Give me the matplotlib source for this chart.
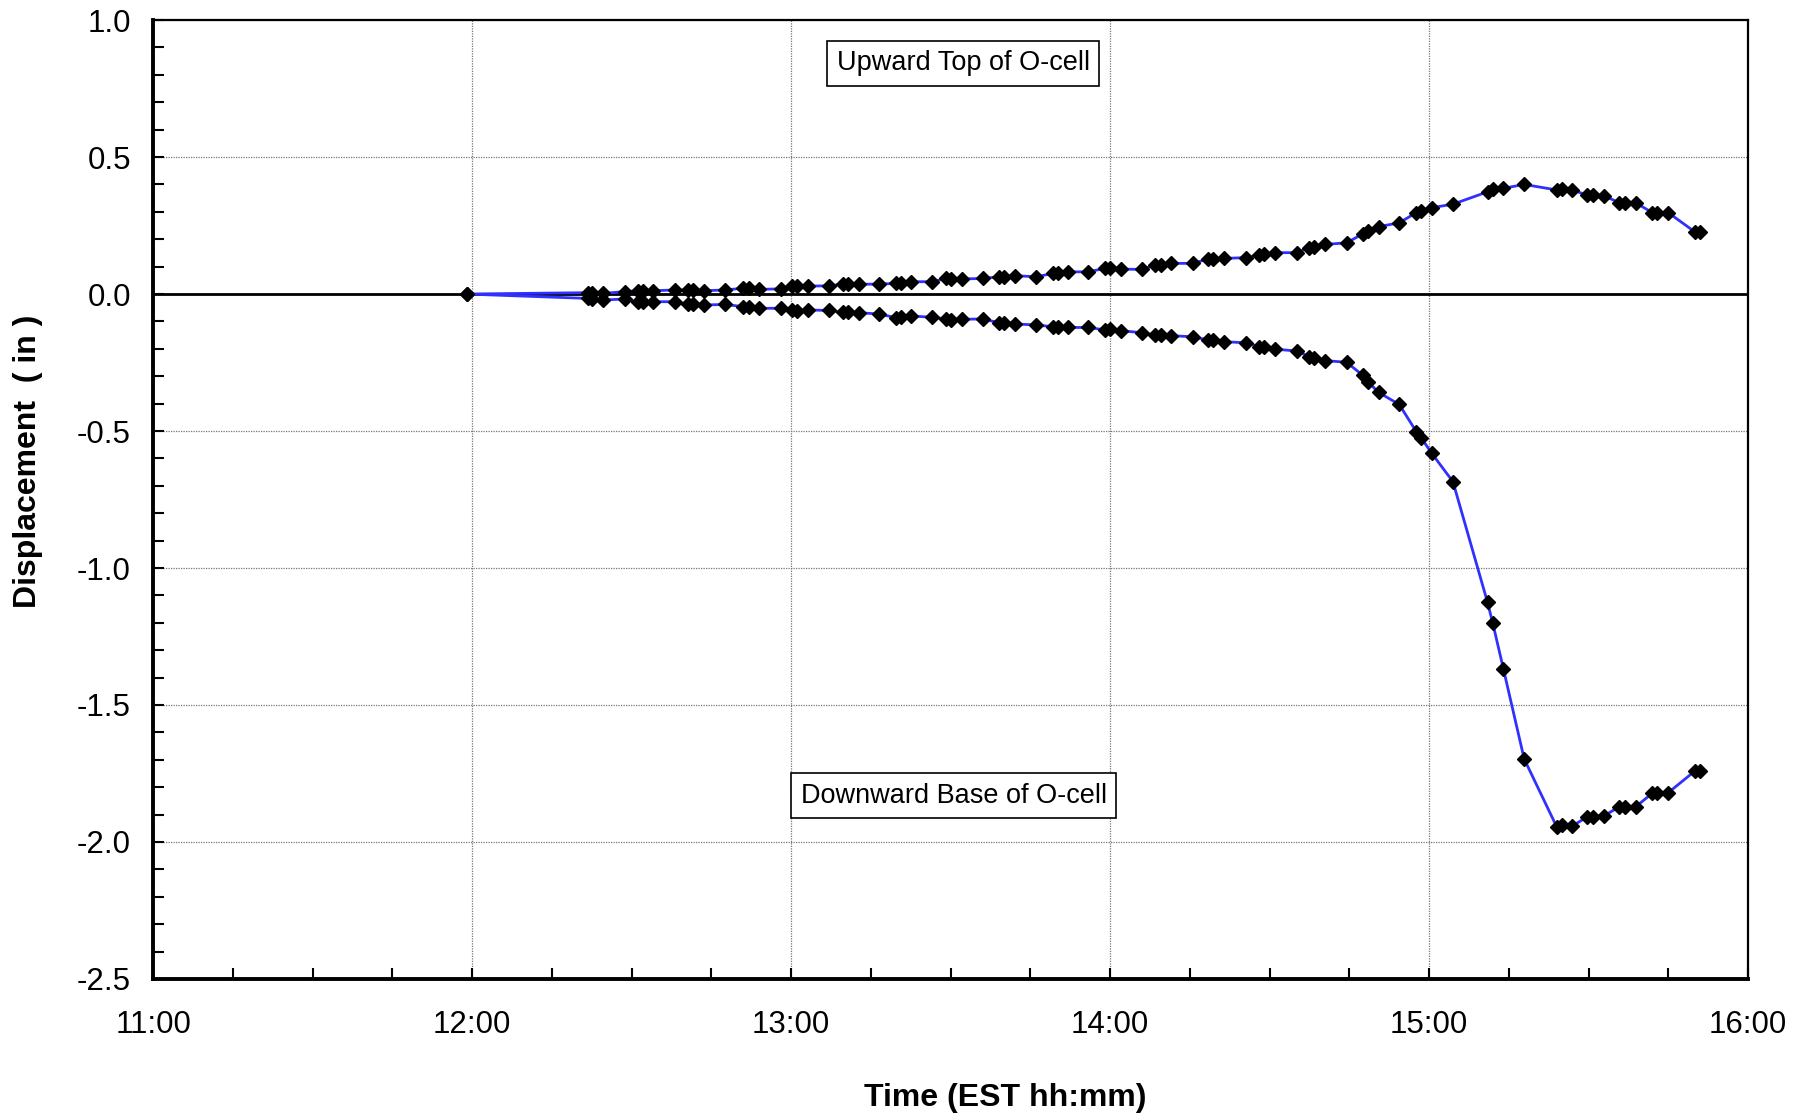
import matplotlib
matplotlib.use("Agg")
import matplotlib.pyplot as plt
from matplotlib.ticker import MultipleLocator, FuncFormatter

plt.rcParams['font.family'] = ['Liberation Sans', 'DejaVu Sans']

# readings, minutes after 11:00
time_min = [59.0, 81.8, 82.6, 84.6, 88.7, 91.2, 92.1, 94.1, 98.2, 100.6,
            101.6, 103.7, 107.6, 111.0, 112.1, 114.0, 118.1, 120.1, 121.1, 123.1,
            127.1, 129.7, 130.7, 132.7, 136.6, 139.7, 140.7, 142.6, 146.6, 149.2,
            150.1, 152.1, 156.1, 159.2, 160.1, 162.1, 166.1, 169.2, 170.2, 172.0,
            175.9, 179.1, 180.0, 182.1, 186.0, 188.5, 189.5, 191.5, 195.6, 198.5,
            199.4, 201.5, 205.6, 208.1, 209.0, 211.0, 215.1, 217.5, 218.4, 220.4,
            224.5, 227.5, 228.5, 230.5, 234.4, 237.6, 238.5, 240.5, 244.5, 251.0,
            252.0, 254.0, 257.9, 264.0, 265.0, 266.9, 269.8, 270.9, 272.9, 275.8,
            276.9, 278.9, 282.0, 282.9, 285.0, 290.0, 291.0]

upward_top = [0.0, 0.005, 0.005, 0.002, 0.009, 0.012, 0.012, 0.012, 0.015, 0.015,
              0.015, 0.012, 0.015, 0.021, 0.021, 0.017, 0.019, 0.029, 0.029, 0.029,
              0.030, 0.036, 0.036, 0.036, 0.036, 0.039, 0.041, 0.045, 0.045, 0.057,
              0.054, 0.055, 0.057, 0.063, 0.063, 0.067, 0.063, 0.075, 0.078, 0.081,
              0.081, 0.094, 0.094, 0.091, 0.090, 0.106, 0.106, 0.112, 0.112, 0.128,
              0.129, 0.130, 0.133, 0.142, 0.145, 0.151, 0.151, 0.169, 0.173, 0.181,
              0.187, 0.219, 0.230, 0.246, 0.260, 0.297, 0.304, 0.315, 0.328, 0.373,
              0.382, 0.386, 0.400, 0.380, 0.382, 0.380, 0.361, 0.361, 0.359, 0.333,
              0.333, 0.333, 0.297, 0.297, 0.297, 0.227, 0.227]

downward_base = [0.0, -0.016, -0.019, -0.022, -0.018, -0.030, -0.030, -0.028, -0.028, -0.038,
                 -0.038, -0.040, -0.038, -0.046, -0.046, -0.052, -0.052, -0.058, -0.061, -0.058,
                 -0.060, -0.067, -0.067, -0.068, -0.073, -0.086, -0.083, -0.080, -0.085, -0.091,
                 -0.095, -0.092, -0.091, -0.105, -0.107, -0.109, -0.113, -0.119, -0.119, -0.122,
                 -0.122, -0.131, -0.129, -0.134, -0.141, -0.150, -0.150, -0.152, -0.156, -0.168,
                 -0.168, -0.174, -0.178, -0.192, -0.195, -0.201, -0.208, -0.229, -0.235, -0.243,
                 -0.249, -0.296, -0.320, -0.359, -0.403, -0.502, -0.524, -0.581, -0.685, -1.125,
                 -1.202, -1.369, -1.697, -1.944, -1.938, -1.942, -1.908, -1.908, -1.905, -1.871,
                 -1.871, -1.871, -1.822, -1.822, -1.820, -1.741, -1.741]

x_hours = [11 + m / 60.0 for m in time_min]

fig = plt.figure(figsize=(18.03, 11.15), dpi=100)
ax = fig.add_axes([0.0849, 0.122, 0.8846, 0.860])

for series in (upward_top, downward_base):
    ax.plot(x_hours, series, color='#3030ff', lw=2, marker='D', ms=7,
            mfc='black', mec='black', zorder=3)

ax.axhline(0, color='black', lw=2, zorder=2)

ax.set_xlim(11, 16)
ax.set_ylim(-2.5, 1.0)
ax.xaxis.set_major_locator(MultipleLocator(1))
ax.xaxis.set_minor_locator(MultipleLocator(0.25))
ax.xaxis.set_major_formatter(FuncFormatter(lambda v, p: '%d:00' % round(v)))
ax.yaxis.set_major_locator(MultipleLocator(0.5))
ax.yaxis.set_minor_locator(MultipleLocator(0.1))
ax.yaxis.set_major_formatter(FuncFormatter(lambda v, p: '%.1f' % v))

ax.grid(True, which='major', color='#777777', ls=(0, (1, 1)), lw=0.9)
ax.tick_params(which='both', direction='in', labelsize=22.5, width=1.5, color='black')
ax.tick_params(which='major', length=8)
ax.tick_params(which='minor', length=8)
ax.tick_params(axis='x', pad=22)
ax.tick_params(axis='y', pad=16)

for side in ('left', 'bottom'):
    ax.spines[side].set_linewidth(2.8)
for side in ('top', 'right'):
    ax.spines[side].set_linewidth(1.6)

ax.set_xlabel('Time (EST hh:mm)', fontsize=23, fontweight='bold')
ax.set_ylabel('Displacement  ( in )', fontsize=23, fontweight='bold')
ax.xaxis.set_label_coords(0.534, -0.108)
ax.yaxis.set_label_coords(-0.069, 0.54)

box = dict(boxstyle='square,pad=0.35', fc='white', ec='black', lw=1.2)
ax.text(13.54, 0.843, 'Upward Top of O-cell', fontsize=19.5, ha='center', va='center',
        bbox=box, zorder=5)
ax.text(13.51, -1.832, 'Downward Base of O-cell', fontsize=19.5, ha='center', va='center',
        bbox=box, zorder=5)

fig.savefig('out.png', dpi=100)
